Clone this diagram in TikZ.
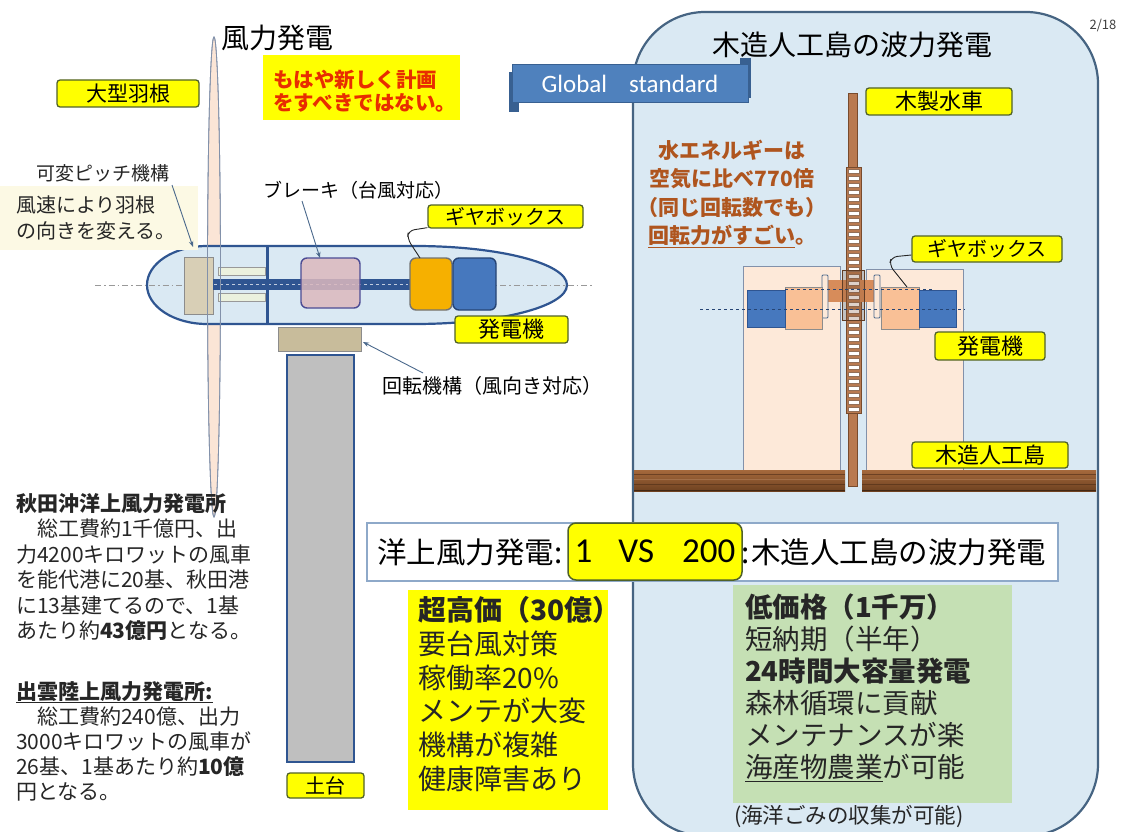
\documentclass[tikz,border=0pt]{standalone}
\usepackage{fontspec}
\setmainfont{Noto Sans CJK JP}
\newfontfamily\latinfont{Carlito}
\usetikzlibrary{arrows.meta}

\definecolor{yfill}{RGB}{255,255,0}
\definecolor{yborder}{RGB}{80,98,40}
\definecolor{boxblue}{RGB}{218,233,243}
\definecolor{boxborder}{RGB}{70,100,130}
\definecolor{navy}{RGB}{47,85,145}
\definecolor{ptr}{RGB}{75,105,140}
\definecolor{bladefill}{RGB}{251,229,214}
\definecolor{bladeline}{RGB}{130,145,170}
\definecolor{hubtan}{RGB}{216,207,182}
\definecolor{yawtan}{RGB}{200,188,155}
\definecolor{palegreen}{RGB}{235,241,222}
\definecolor{brakepink}{RGB}{220,184,190}
\definecolor{gearorange}{RGB}{246,176,0}
\definecolor{genblue}{RGB}{70,120,190}
\definecolor{towergray}{RGB}{191,191,191}
\definecolor{cream}{RGB}{252,249,228}
\definecolor{redtext}{RGB}{232,45,0}
\definecolor{browntext}{RGB}{175,85,30}
\definecolor{banner}{RGB}{79,129,189}
\definecolor{bannerdark}{RGB}{56,96,145}
\definecolor{pinkblock}{RGB}{253,233,217}
\definecolor{peach}{RGB}{249,192,150}
\definecolor{shaftbrown}{RGB}{215,140,90}
\definecolor{wheelbrown}{RGB}{185,122,80}
\definecolor{wheeldark}{RGB}{120,75,45}
\definecolor{woodtop}{RGB}{165,105,60}
\definecolor{woodbot}{RGB}{110,65,32}
\definecolor{greenbox}{RGB}{197,224,180}
\definecolor{cmpborder}{RGB}{142,169,201}

\begin{document}
\begin{tikzpicture}[x=1pt,y=1pt,
  ylabel/.style={draw=yborder, fill=yfill, line width=1.3pt, rounded corners=3pt,
    inner sep=0pt, font=\fontsize{20}{22}\selectfont},
  txt/.style={inner sep=0pt, anchor=west},
  ctxt/.style={inner sep=0pt},
  pointer/.style={draw=ptr, line width=0.9pt, -{Stealth[length=6pt,width=4.5pt]}},
  leader/.style={draw=black!85, line width=0.9pt, rounded corners=6pt},
  part/.style={line width=1.4pt, rounded corners=6pt}
]
\useasboundingbox (0,0) rectangle (1125,-832);
\fill[white] (0,0) rectangle (1125,-832);

% ---------------- right panel: wooden island wave power ----------------
\draw[fill=boxblue, draw=boxborder, line width=2.2pt, rounded corners=72pt]
  (633,-12) rectangle (1098,-836);
\node[ctxt, font=\fontsize{28}{30}\selectfont] (rtitle) at (852,-45) {木造人工島の波力発電};
\node[ctxt, font=\fontsize{13}{14}\selectfont, text=black!75] (page) at (1103,-26) {2/18};

% Global standard banner
\fill[bannerdark] (509,-72) rectangle (519,-112);
\fill[bannerdark] (740,-58) rectangle (751,-98);
\node[fill=banner, draw=bannerdark, line width=1pt, minimum width=236pt, minimum height=38pt,
  inner sep=0pt, text=white, font=\latinfont\fontsize{25}{26}\selectfont]
  (global) at (630,-84) {Global\hspace{22pt}standard};

% floats, generators and gearboxes
\draw[fill=pinkblock, draw=bladeline, line width=0.7pt] (743,-266) rectangle (840,-470);
\draw[fill=pinkblock, draw=bladeline, line width=0.7pt] (866,-269) rectangle (963,-470);

% water wheel column
\draw[fill=wheelbrown, draw=wheeldark, line width=0.6pt] (848,-93) rectangle (857,-486);
\draw[fill=wheelbrown, draw=wheeldark, line width=0.6pt] (846,-167) rectangle (861,-413);
\foreach \yy in {169,176,...,407}
  \draw[fill=white, draw=wheeldark!80, line width=0.35pt] (848,-\yy) rectangle (859,-\yy-4.6);

\fill[shaftbrown] (828,-280) rectangle (846,-302);
\fill[shaftbrown] (860,-280) rectangle (874,-302);
\draw[fill=wheeldark, fill opacity=0.25, draw=wheeldark!80!black, line width=1pt] (842,-270) rectangle (864,-320);
\draw[fill=pinkblock, draw=ptr, line width=0.8pt, rounded corners=1pt] (822,-275) rectangle (828,-318);
\draw[fill=pinkblock, draw=ptr, line width=0.8pt, rounded corners=1pt] (874,-275) rectangle (880,-318);
\draw[fill=peach, draw=black!45, line width=0.8pt] (785,-287) rectangle (822,-329);
\draw[fill=peach, draw=black!45, line width=0.8pt] (881,-287) rectangle (919,-329);
\draw[fill=genblue, draw=navy, line width=0.8pt] (747,-290) rectangle (785,-327);
\draw[fill=genblue, draw=navy, line width=0.8pt] (919,-290) rectangle (956,-327);
\draw[navy!80!black, dashed, line width=0.9pt] (700,-309) -- (965,-309);
\draw[navy!80!black, dashed, line width=0.9pt] (785,-289) -- (932,-289);

% wooden island beams
\shade[top color=woodtop, bottom color=woodbot] (634,-470) rectangle (845,-491);
\shade[top color=woodtop, bottom color=woodbot] (862,-470) rectangle (1096,-491);
\foreach \xa/\xb in {634/845, 862/1096}{
  \draw[woodbot!70!black, line width=0.5pt, opacity=0.6] (\xa,-474) -- (\xb,-474);
  \draw[woodtop!80!white, line width=0.5pt, opacity=0.5] (\xa,-479) -- (\xb,-479);
  \draw[woodbot!70!black, line width=0.5pt, opacity=0.6] (\xa,-484) -- (\xb,-484);
  \draw[woodbot!60!black, line width=0.8pt] (\xa,-490) -- (\xb,-490);
}

% right-hand labels
\node[ylabel, minimum width=146pt, minimum height=27pt, font=\fontsize{22}{24}\selectfont] (wheel) at (939,-101.5) {木製水車};
\node[ylabel, minimum width=150pt, minimum height=26pt] (rgear) at (987,-249) {ギヤボックス};
\node[ylabel, minimum width=110pt, minimum height=28pt, font=\fontsize{22}{24}\selectfont] (rgen) at (990,-346) {発電機};
\node[ylabel, minimum width=156pt, minimum height=26pt, font=\fontsize{22}{24}\selectfont] (island) at (990,-455) {木造人工島};
\coordinate (rgearpt) at (907,-287);
\draw[leader] (rgear.west) ++(0,-6) -- ++(-20,-2) -- ++(-2,-8) -- (rgearpt);

% water energy note
\node[ctxt, text=browntext, align=center, font=\bfseries\fontsize{21}{28.5}\selectfont]
  (water) at (732,-194) {水エネルギーは\\空気に比べ770倍\\（同じ回転数でも）\\\underline{回転力がすごい}。};

% ---------------- left: wind turbine ----------------
\node[ctxt, font=\fontsize{28}{30}\selectfont] (ltitle) at (277,-38) {風力発電};
\node[ylabel, minimum width=142pt, minimum height=27pt, font=\fontsize{21}{23}\selectfont] (blade) at (128,-93.5) {大型羽根};
\node[fill=yfill, minimum width=197pt, minimum height=65pt, inner sep=0pt] (warnbg) at (361.5,-87.5) {};
\node[txt, text=redtext, align=left, font=\bfseries\fontsize{20.5}{23}\selectfont]
  (warn) at (273,-91) {もはや新しく計画\\をすべきではない。};

% tower and base
\draw[fill=towergray, draw=navy, line width=1.5pt] (287,-355) rectangle (354,-762);
\node[ylabel, minimum width=77pt, minimum height=25pt] (base) at (325.5,-785.5) {土台};
\draw[fill=yawtan, draw=black!45, line width=0.8pt] (278,-327) rectangle (361,-351);

% blade (behind nacelle)
\draw[fill=bladefill, draw=bladeline, line width=0.8pt] (214,-277) ellipse[x radius=6.5, y radius=240];

% nacelle body
\draw[fill=boxblue, draw=navy, line width=2.2pt]
  (207,-246) -- (415,-246) arc[start angle=90, end angle=-90, x radius=152, y radius=39]
  -- (207,-324) arc[start angle=270, end angle=90, x radius=60, y radius=39] -- cycle;
\draw[black!40, line width=0.8pt, dash pattern=on 6pt off 3pt on 1.5pt off 3pt] (95,-285) -- (592,-285);
\draw[fill=hubtan, draw=black!45, line width=0.8pt] (184,-257) rectangle (213,-314);
\draw[fill=palegreen, draw=black!40, line width=0.6pt] (218,-267) rectangle (265,-275);
\draw[fill=palegreen, draw=black!40, line width=0.6pt] (218,-293) rectangle (265,-301);
\fill[navy] (213,-279) rectangle (410,-290);
\draw[white!70!navy, line width=0.8pt, dash pattern=on 3pt off 3pt] (214,-284.5) -- (408,-284.5);
\draw[navy, line width=3pt] (267,-246) -- (267,-324);
\draw[bladeline, line width=0.8pt] (214,-277) ellipse[x radius=6.5, y radius=240];
\draw[part, fill=brakepink, fill opacity=0.85, draw=black!60!blue!70] (301,-258) rectangle (360,-308);
\draw[part, fill=gearorange, draw=black!55] (410,-258) rectangle (452,-310);
\draw[part, fill=genblue, draw=navy!80!black] (453,-258) rectangle (496,-310);

% turbine labels
\node[ylabel, minimum width=155pt, minimum height=23pt] (lgear) at (505.5,-216.5) {ギヤボックス};
\node[ylabel, minimum width=113pt, minimum height=27pt, font=\fontsize{22}{24}\selectfont] (lgen) at (511.5,-329.5) {発電機};
\coordinate (lgearpt) at (420,-258);
\draw[leader] (lgear.south west) ++(0,1) -- ++(-19,-3) -- ++(-1,-8) -- (lgearpt);

\node[ctxt, font=\fontsize{19}{21}\selectfont] (brake) at (358,-190) {ブレーキ（台風対応）};
\coordinate (brakept) at (320,-258);
\draw[pointer] (302,-201) -- (brakept);

\node[ctxt, font=\fontsize{20}{22}\selectfont] (yaw) at (492,-386) {回転機構（風向き対応）};
\coordinate (yawpt) at (363,-342);
\draw[pointer] (423,-373) -- (yawpt);

\fill[cream] (0,-186) rectangle (198,-250);
\node[ctxt, font=\fontsize{19}{21}\selectfont, text=black!85] (pitch) at (103,-173) {可変ピッチ機構};
\node[txt, align=left, font=\fontsize{20}{26}\selectfont, text=black!85] (pitchnote) at (16,-218) {風速により羽根\\の向きを変える。};
\coordinate (pitchpt) at (193,-247);
\draw[pointer] (172,-185) -- (pitchpt);

% left notes
\node[txt, align=left, font=\fontsize{21}{25.5}\selectfont, text=black!85] (akita) at (16,-567)
  {\textbf{秋田沖洋上風力発電所}\\
   　総工費約1千億円、出\\
   力4200キロワットの風車\\
   を能代港に20基、秋田港\\
   に13基建てるので、1基\\
   あたり約\textbf{43億円}となる。};
\node[txt, align=left, font=\fontsize{21}{25}\selectfont, text=black!85] (izumo) at (16,-741)
  {\textbf{\underline{出雲陸上風力発電所:}}\\
   　総工費約240億、出力\\
   3000キロワットの風車が\\
   26基、1基あたり約\textbf{10億}\\
   円となる。};

% ---------------- comparison ----------------
\draw[fill=white, draw=cmpborder, line width=1.2pt] (367,-523) rectangle (1058,-581);
\node[txt, font=\fontsize{29.5}{31}\selectfont] (cmpl) at (377,-552) {洋上風力発電:};
\node[draw=yborder, fill=yfill, line width=1.5pt, rounded corners=8pt, minimum width=174pt,
  minimum height=57pt, inner sep=0pt, font=\latinfont\fontsize{35}{36}\selectfont]
  (ratio) at (655,-551.5) {1\hspace{26pt}VS\hspace{28pt}200};
\node[txt, font=\fontsize{29.5}{31}\selectfont] (cmpr) at (741,-552) {:\hspace{2pt}木造人工島の波力発電};

\node[fill=yfill, minimum width=200pt, minimum height=220pt, inner sep=0pt] (conbg) at (508,-700) {};
\node[txt, align=left, font=\fontsize{28}{33.8}\selectfont, text=black!85] (cons) at (418,-694)
  {\textbf{超高価（30億）}\\要台風対策\\稼働率20\%\\メンテが大変\\機構が複雑\\健康障害あり};

\node[fill=greenbox, minimum width=279pt, minimum height=218pt, inner sep=0pt] (probg) at (872.5,-694) {};
\node[txt, align=left, font=\fontsize{27.5}{32}\selectfont, text=black!85] (pros) at (745,-688)
  {\textbf{低価格（1千万）}\\短納期（半年）\\\textbf{24時間大容量発電}\\森林循環に貢献\\メンテナンスが楽\\\underline{海産物農業}が可能};
\node[txt, font=\fontsize{21.5}{23}\selectfont, text=black!85] (trash) at (734,-817) {(海洋ごみの収集が可能)};
\end{tikzpicture}
\end{document}
